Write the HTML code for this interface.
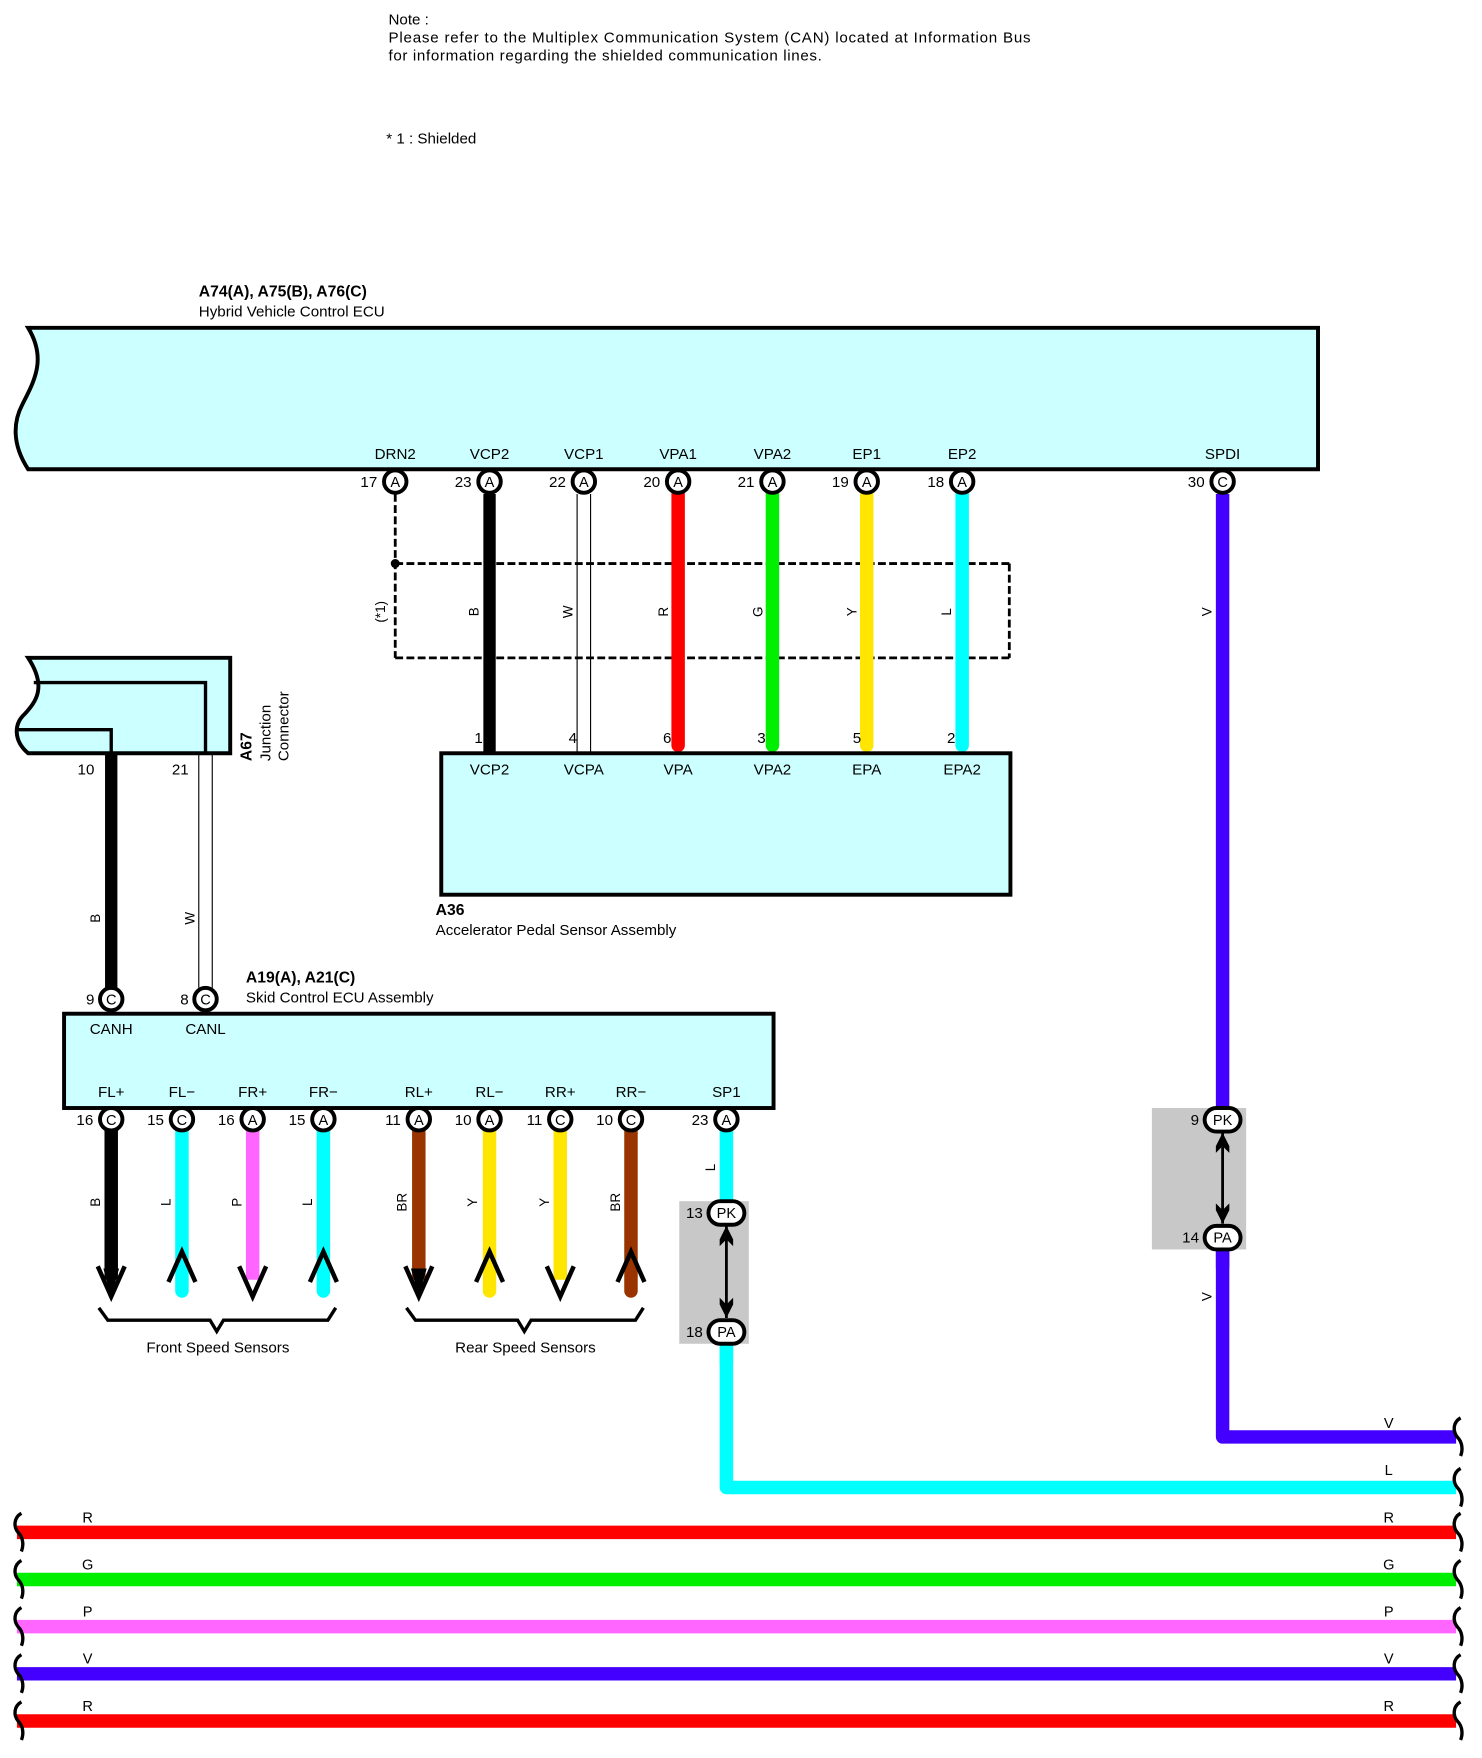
<!DOCTYPE html>
<html><head><meta charset="utf-8"><style>html,body{margin:0;padding:0;background:#fff}svg{display:block}</style></head>
<body>
<svg xmlns="http://www.w3.org/2000/svg" width="1482" height="1758" viewBox="0 0 1320 1566" font-family="Liberation Sans, Arial, sans-serif" font-size="13.5">
<rect width="1320" height="1566" fill="#fff"/>
<text x="346" y="22">Note :</text>
<text x="346" y="38" textLength="572">Please refer to the Multiplex Communication System (CAN) located  at  Information Bus</text>
<text x="346" y="54" textLength="386">for information regarding the shielded communication lines.</text>
<text x="344" y="128">* 1 : Shielded</text>

<text x="177" y="264" font-weight="bold" font-size="14">A74(A), A75(B), A76(C)</text>
<text x="177" y="282">Hybrid Vehicle Control ECU</text>
<path d="M25,292 L1174,292 L1174,418 L25,418 C10,395 12,375 20,360 C30,340 42,320 25,292 Z" fill="#ccffff" stroke="#000" stroke-width="3.5"/>

<g fill="none" stroke="#000" stroke-width="2.5" stroke-dasharray="7,3">
<line x1="352" y1="440" x2="352" y2="586"/>
<line x1="352" y1="502" x2="899" y2="502"/>
<line x1="352" y1="586" x2="899" y2="586"/>
<line x1="899" y1="502" x2="899" y2="586"/>
</g>
<circle cx="352" cy="502" r="4"/>

<line x1="436" y1="440" x2="436" y2="670" stroke="#000" stroke-width="11"/>
<line x1="514" y1="440" x2="514" y2="670" stroke="#000" stroke-width="1"/>
<line x1="526" y1="440" x2="526" y2="670" stroke="#000" stroke-width="1"/>
<line x1="604" y1="440" x2="604" y2="664" stroke="#ff0000" stroke-width="12" stroke-linecap="round"/>
<line x1="688" y1="440" x2="688" y2="664" stroke="#00ee00" stroke-width="12" stroke-linecap="round"/>
<line x1="772" y1="440" x2="772" y2="664" stroke="#ffe600" stroke-width="12" stroke-linecap="round"/>
<line x1="857" y1="440" x2="857" y2="664" stroke="#00ffff" stroke-width="12" stroke-linecap="round"/>
<path d="M1089,440 L1089,1280 L1297,1280" fill="none" stroke="#4400ff" stroke-width="12" stroke-linejoin="round"/>
<path d="M647,1007 L647,1325 L1297,1325" fill="none" stroke="#00ffff" stroke-width="12" stroke-linejoin="round"/>

<g text-anchor="middle">
<text x="352" y="409">DRN2</text><text x="436" y="409">VCP2</text><text x="520" y="409">VCP1</text><text x="604" y="409">VPA1</text>
<text x="688" y="409">VPA2</text><text x="772" y="409">EP1</text><text x="857" y="409">EP2</text><text x="1089" y="409">SPDI</text>
</g>
<g text-anchor="end">
<text x="336" y="434">17</text><text x="420" y="434">23</text><text x="504" y="434">22</text><text x="588" y="434">20</text>
<text x="672" y="434">21</text><text x="756" y="434">19</text><text x="841" y="434">18</text><text x="1073" y="434">30</text>
</g>
<g fill="#fff" stroke="#000" stroke-width="3.5">
<circle cx="352" cy="429" r="10"/><circle cx="436" cy="429" r="10"/><circle cx="520" cy="429" r="10"/><circle cx="604" cy="429" r="10"/>
<circle cx="688" cy="429" r="10"/><circle cx="772" cy="429" r="10"/><circle cx="857" cy="429" r="10"/><circle cx="1089" cy="429" r="10"/>
</g>
<g text-anchor="middle" font-size="13">
<text x="352" y="434">A</text><text x="436" y="434">A</text><text x="520" y="434">A</text><text x="604" y="434">A</text>
<text x="688" y="434">A</text><text x="772" y="434">A</text><text x="857" y="434">A</text><text x="1089" y="434">C</text>
</g>

<g text-anchor="middle" font-size="12">
<text transform="translate(343,545) rotate(-90)">(*1)</text>
<text transform="translate(426,545) rotate(-90)">B</text>
<text transform="translate(510,545) rotate(-90)">W</text>
<text transform="translate(595,545) rotate(-90)">R</text>
<text transform="translate(679,545) rotate(-90)">G</text>
<text transform="translate(763,545) rotate(-90)">Y</text>
<text transform="translate(847,545) rotate(-90)">L</text>
<text transform="translate(1079,545) rotate(-90)">V</text>
<text transform="translate(1079,1155) rotate(-90)">V</text>
<text transform="translate(89,818) rotate(-90)">B</text>
<text transform="translate(173,818) rotate(-90)">W</text>
<text transform="translate(637,1040) rotate(-90)">L</text>
<text transform="translate(89,1071) rotate(-90)">B</text>
<text transform="translate(152,1071) rotate(-90)">L</text>
<text transform="translate(215,1071) rotate(-90)">P</text>
<text transform="translate(278,1071) rotate(-90)">L</text>
<text transform="translate(362,1071) rotate(-90)">BR</text>
<text transform="translate(425,1071) rotate(-90)">Y</text>
<text transform="translate(489,1071) rotate(-90)">Y</text>
<text transform="translate(552,1071) rotate(-90)">BR</text>
</g>

<g text-anchor="end">
<text x="430" y="662">1</text><text x="514" y="662">4</text><text x="598" y="662">6</text><text x="682" y="662">3</text><text x="767" y="662">5</text><text x="851" y="662">2</text>
</g>
<rect x="393" y="671" width="507" height="126" fill="#ccffff" stroke="#000" stroke-width="3.5"/>
<g text-anchor="middle">
<text x="436" y="690">VCP2</text><text x="520" y="690">VCPA</text><text x="604" y="690">VPA</text><text x="688" y="690">VPA2</text><text x="772" y="690">EPA</text><text x="857" y="690">EPA2</text>
</g>
<text x="388" y="815" font-weight="bold" font-size="14">A36</text>
<text x="388" y="833">Accelerator Pedal Sensor Assembly</text>

<path d="M25,586 L205,586 L205,671 L25,671 C12,660 12,645 22,636 C32,625 42,612 25,586 Z" fill="#ccffff" stroke="#000" stroke-width="3.5"/>
<path d="M30,608 L183,608 L183,671" fill="none" stroke="#000" stroke-width="3"/>
<path d="M16,650 L99,650 L99,671" fill="none" stroke="#000" stroke-width="3"/>
<text x="84" y="690" text-anchor="end">10</text>
<text x="168" y="690" text-anchor="end">21</text>
<g>
<text transform="translate(224,678) rotate(-90)" font-weight="bold" font-size="14">A67</text>
<text transform="translate(241,678) rotate(-90)">Junction</text>
<text transform="translate(257,678) rotate(-90)">Connector</text>
</g>
<line x1="99" y1="671" x2="99" y2="880" stroke="#000" stroke-width="11"/>
<line x1="177" y1="671" x2="177" y2="880" stroke="#000" stroke-width="1"/>
<line x1="189" y1="671" x2="189" y2="880" stroke="#000" stroke-width="1"/>

<text x="219" y="875" font-weight="bold" font-size="14">A19(A), A21(C)</text>
<text x="219" y="893">Skid Control ECU Assembly</text>
<rect x="57" y="903" width="632" height="84" fill="#ccffff" stroke="#000" stroke-width="3.5"/>
<text x="84" y="895" text-anchor="end">9</text>
<text x="168" y="895" text-anchor="end">8</text>
<g fill="#fff" stroke="#000" stroke-width="3.5"><circle cx="99" cy="890" r="10"/><circle cx="183" cy="890" r="10"/></g>
<g text-anchor="middle" font-size="13"><text x="99" y="895">C</text><text x="183" y="895">C</text></g>
<g text-anchor="middle">
<text x="99" y="921">CANH</text><text x="183" y="921">CANL</text>
<text x="99" y="977">FL+</text><text x="162" y="977">FL−</text><text x="225" y="977">FR+</text><text x="288" y="977">FR−</text>
<text x="373" y="977">RL+</text><text x="436" y="977">RL−</text><text x="499" y="977">RR+</text><text x="562" y="977">RR−</text><text x="647" y="977">SP1</text>
</g>

<g stroke-width="12" stroke-linecap="round" fill="none">
<line x1="99" y1="1007" x2="99" y2="1140" stroke="#000" stroke-linecap="butt"/>
<line x1="162" y1="1007" x2="162" y2="1150" stroke="#00ffff"/>
<line x1="225" y1="1007" x2="225" y2="1140" stroke="#ff66ff" stroke-linecap="butt"/>
<line x1="288" y1="1007" x2="288" y2="1150" stroke="#00ffff"/>
<line x1="373" y1="1007" x2="373" y2="1140" stroke="#993300" stroke-linecap="butt"/>
<line x1="436" y1="1007" x2="436" y2="1150" stroke="#ffe600"/>
<line x1="499" y1="1007" x2="499" y2="1140" stroke="#ffe600" stroke-linecap="butt"/>
<line x1="562" y1="1007" x2="562" y2="1150" stroke="#993300"/>
</g>
<g stroke="#000" stroke-width="4" fill="none" stroke-linejoin="miter">
<path d="M87,1128 L99,1155 L111,1128"/>
<path d="M213,1128 L225,1155 L237,1128"/>
<path d="M361,1128 L373,1155 L385,1128"/>
<path d="M487,1128 L499,1155 L511,1128"/>
<path d="M150,1142 L162,1115 L174,1142"/>
<path d="M276,1142 L288,1115 L300,1142"/>
<path d="M424,1142 L436,1115 L448,1142"/>
<path d="M550,1142 L562,1115 L574,1142"/>
</g>
<g fill="#000" stroke="none"><path d="M92,1130 L99,1155 L106,1130 Z"/><path d="M366,1130 L373,1155 L380,1130 Z"/></g>

<g text-anchor="end">
<text x="83" y="1002">16</text><text x="146" y="1002">15</text><text x="209" y="1002">16</text><text x="272" y="1002">15</text>
<text x="357" y="1002">11</text><text x="420" y="1002">10</text><text x="483" y="1002">11</text><text x="546" y="1002">10</text><text x="631" y="1002">23</text>
</g>
<g fill="#fff" stroke="#000" stroke-width="3.5">
<circle cx="99" cy="997" r="10"/><circle cx="162" cy="997" r="10"/><circle cx="225" cy="997" r="10"/><circle cx="288" cy="997" r="10"/>
<circle cx="373" cy="997" r="10"/><circle cx="436" cy="997" r="10"/><circle cx="499" cy="997" r="10"/><circle cx="562" cy="997" r="10"/><circle cx="647" cy="997" r="10"/>
</g>
<g text-anchor="middle" font-size="13">
<text x="99" y="1002">C</text><text x="162" y="1002">C</text><text x="225" y="1002">A</text><text x="288" y="1002">A</text>
<text x="373" y="1002">A</text><text x="436" y="1002">A</text><text x="499" y="1002">C</text><text x="562" y="1002">C</text><text x="647" y="1002">A</text>
</g>

<g stroke="#000" stroke-width="3" fill="none">
<path d="M88,1165 L96,1176 L187,1176 L193,1186 L199,1176 L292,1176 L299,1165"/>
<path d="M362,1165 L370,1176 L461,1176 L467,1186 L473,1176 L566,1176 L573,1165"/>
</g>
<text x="194" y="1205" text-anchor="middle">Front Speed Sensors</text>
<text x="468" y="1205" text-anchor="middle">Rear Speed Sensors</text>

<rect x="605" y="1070" width="62" height="127" fill="#c8c8c8"/>
<rect x="1026" y="987" width="84" height="126" fill="#c8c8c8"/>
<line x1="647" y1="1197" x2="647" y2="1215" stroke="#00ffff" stroke-width="12"/>
<line x1="1089" y1="1113" x2="1089" y2="1130" stroke="#4400ff" stroke-width="12"/>
<g stroke="#000" stroke-width="2.5"><line x1="647" y1="1092" x2="647" y2="1174"/><line x1="1089" y1="1009" x2="1089" y2="1090"/></g>
<g fill="#000">
<path d="M641,1104 L647,1092 L653,1104 L653,1110 L647,1104 L641,1110Z"/>
<path d="M641,1162 L647,1174 L653,1162 L653,1156 L647,1162 L641,1156Z"/>
<path d="M1083,1021 L1089,1009 L1095,1021 L1095,1027 L1089,1021 L1083,1027Z"/>
<path d="M1083,1078 L1089,1090 L1095,1078 L1095,1072 L1089,1078 L1083,1072Z"/>
</g>
<g fill="#fff" stroke="#000" stroke-width="3.5">
<rect x="631" y="1070" width="32" height="21" rx="10.5"/><rect x="631" y="1176" width="32" height="21" rx="10.5"/>
<rect x="1073" y="987" width="32" height="21" rx="10.5"/><rect x="1073" y="1092" width="32" height="21" rx="10.5"/>
</g>
<g text-anchor="middle" font-size="13">
<text x="647" y="1085">PK</text><text x="647" y="1191">PA</text><text x="1089" y="1002">PK</text><text x="1089" y="1107">PA</text>
</g>
<g text-anchor="end">
<text x="626" y="1085">13</text><text x="626" y="1191">18</text><text x="1068" y="1002">9</text><text x="1068" y="1107">14</text>
</g>

<g stroke-width="12" fill="none">
<line x1="15" y1="1365" x2="1297" y2="1365" stroke="#ff0000"/>
<line x1="15" y1="1407" x2="1297" y2="1407" stroke="#00ee00"/>
<line x1="15" y1="1449" x2="1297" y2="1449" stroke="#ff66ff"/>
<line x1="15" y1="1491" x2="1297" y2="1491" stroke="#4400ff"/>
<line x1="15" y1="1533" x2="1297" y2="1533" stroke="#ff0000"/>
</g>
<g stroke="#000" stroke-width="3" fill="none">
<path id="sq" d="M1301,1263 c-7,4 -7,12 -3,17 c5,5 5,12 3,17"/>
<path d="M1301,1308 c-7,4 -7,12 -3,17 c5,5 5,12 3,17"/>
<path d="M1301,1348 c-7,4 -7,12 -3,17 c5,5 5,12 3,17"/>
<path d="M1301,1390 c-7,4 -7,12 -3,17 c5,5 5,12 3,17"/>
<path d="M1301,1432 c-7,4 -7,12 -3,17 c5,5 5,12 3,17"/>
<path d="M1301,1474 c-7,4 -7,12 -3,17 c5,5 5,12 3,17"/>
<path d="M1301,1516 c-7,4 -7,12 -3,17 c5,5 5,12 3,17"/>
<path d="M19,1348 c-7,4 -7,12 -3,17 c5,5 5,12 3,17"/>
<path d="M19,1390 c-7,4 -7,12 -3,17 c5,5 5,12 3,17"/>
<path d="M19,1432 c-7,4 -7,12 -3,17 c5,5 5,12 3,17"/>
<path d="M19,1474 c-7,4 -7,12 -3,17 c5,5 5,12 3,17"/>
<path d="M19,1516 c-7,4 -7,12 -3,17 c5,5 5,12 3,17"/>
</g>
<g text-anchor="middle" font-size="13">
<text x="1237" y="1272">V</text><text x="1237" y="1314">L</text>
<text x="78" y="1356">R</text><text x="1237" y="1356">R</text>
<text x="78" y="1398">G</text><text x="1237" y="1398">G</text>
<text x="78" y="1440">P</text><text x="1237" y="1440">P</text>
<text x="78" y="1482">V</text><text x="1237" y="1482">V</text>
<text x="78" y="1524">R</text><text x="1237" y="1524">R</text>
</g>
</svg>
</body></html>
